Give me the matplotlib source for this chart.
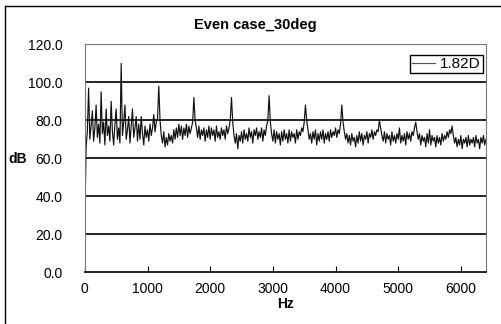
import numpy as np
import matplotlib
matplotlib.use("Agg")
import matplotlib.pyplot as plt
from matplotlib.lines import Line2D

plt.rcParams['font.family'] = ['Liberation Sans', 'DejaVu Sans']

title = 'Even case_30deg'
series_name = '1.82D'
freq_step = 20  # Hz between samples

# spectrum level in dB, one row = 200 Hz
db = [
    25, 66, 74, 97, 70, 77, 85, 69, 76, 88,
    71, 78, 68, 95, 73, 79, 67, 86, 72, 77,
    69, 90, 74, 67, 78, 86, 70, 76, 68, 110,
    72, 79, 88, 70, 75, 82, 68, 77, 86, 71,
    76, 82, 69, 78, 70, 82, 73, 67, 77, 71,
    75, 69, 78, 72, 76, 83, 74, 79, 81, 98,
    80, 72, 68, 74, 66, 71, 67, 73, 69, 72,
    68, 75, 70, 76, 71, 78, 72, 77, 70, 76,
    72, 78, 71, 77, 73, 76, 79, 92, 80, 76,
    71, 77, 70, 75, 72, 76, 69, 75, 71, 77,
    70, 76, 72, 75, 69, 77, 71, 74, 70, 76,
    72, 75, 70, 77, 73, 76, 80, 92, 79, 72,
    68, 73, 65, 72, 69, 74, 68, 75, 70, 73,
    69, 76, 71, 74, 68, 75, 72, 76, 70, 74,
    71, 76, 69, 75, 72, 77, 80, 93, 79, 73,
    69, 75, 68, 74, 70, 73, 67, 74, 69, 75,
    70, 73, 68, 75, 69, 74, 71, 73, 68, 75,
    70, 74, 72, 76, 74, 79, 88, 80, 75, 70,
    73, 68, 74, 70, 75, 67, 73, 69, 74, 70,
    75, 68, 73, 70, 74, 69, 75, 71, 74, 72,
    76, 71, 75, 73, 78, 88, 79, 74, 70, 73,
    68, 72, 67, 73, 69, 71, 66, 72, 68, 74,
    69, 73, 67, 72, 70, 74, 68, 73, 71, 75,
    70, 74, 72, 75, 74, 80, 76, 72, 69, 74,
    68, 73, 70, 72, 67, 74, 69, 72, 68, 73,
    70, 76, 68, 72, 69, 73, 67, 74, 70, 73,
    69, 74, 72, 76, 79, 74, 70, 73, 67, 72,
    69, 71, 66, 73, 68, 75, 67, 72, 69, 71,
    66, 72, 68, 71, 67, 73, 69, 72, 70, 74,
    71, 75, 73, 77, 72, 68, 71, 66, 70, 67,
    72, 65, 70, 68, 71, 66, 72, 67, 70, 68,
    71, 66, 72, 68, 70, 65, 71, 68, 72, 67,
    70,
]
freq = np.arange(len(db)) * freq_step

y_ticks = [0, 20, 40, 60, 80, 100, 120]
x_ticks = [0, 1000, 2000, 3000, 4000, 5000, 6000]

fig = plt.figure(figsize=(5.02, 3.24), dpi=100)
ax = fig.add_axes([0.169, 0.160, 0.799, 0.703])

# horizontal gridlines, Excel style
for yv in y_ticks[1:-1]:
    ax.axhline(yv, color='black', lw=1.2, zorder=1)

ax.plot(freq, db, color='#111111', lw=0.85, label=series_name, zorder=2)

ax.set_xlim(0, 6400)
ax.set_ylim(0, 120)
ax.set_xticks(x_ticks)
ax.set_yticks(y_ticks)
ax.set_yticklabels(['%.1f' % v for v in y_ticks], fontsize=10)
ax.set_xticklabels([str(v) for v in x_ticks], fontsize=10,
                   family=['Liberation Sans Narrow', 'Liberation Sans'])
ax.tick_params(axis='x', direction='in', length=4, width=0.8, pad=7)
ax.tick_params(axis='y', length=0, pad=16)

for side in ['top', 'right', 'left']:
    ax.spines[side].set_color('#777777')
    ax.spines[side].set_linestyle((0, (1, 1)))
    ax.spines[side].set_linewidth(0.8)
ax.spines['bottom'].set_color('black')
ax.spines['bottom'].set_linewidth(1.2)

ax.set_xlabel('Hz', fontsize=10, fontweight='bold', labelpad=1)
fig.text(0.036, 1 - 159 / 324, 'dB', fontsize=10, fontweight='bold',
         ha='center', va='center')
fig.text(0.508, 1 - 25 / 324, title, fontsize=10.5, fontweight='bold',
         ha='center', va='center')

leg = ax.legend(loc='upper right', bbox_to_anchor=(0.993, 0.954),
                borderaxespad=0, fontsize=11, handlelength=1.5,
                handletextpad=0.35, borderpad=0.15, fancybox=False,
                framealpha=1, edgecolor='black')
leg.get_frame().set_linewidth(1.0)
leg.get_lines()[0].set_color('#555555')

# outer chart border
fig.add_artist(Line2D([5 / 502, 5 / 502], [0, 1 - 6 / 324], color='black', lw=1.0))
fig.add_artist(Line2D([5 / 502, 1], [1 - 6 / 324, 1 - 6 / 324], color='black', lw=1.0))

fig.savefig('out.png', dpi=100)
